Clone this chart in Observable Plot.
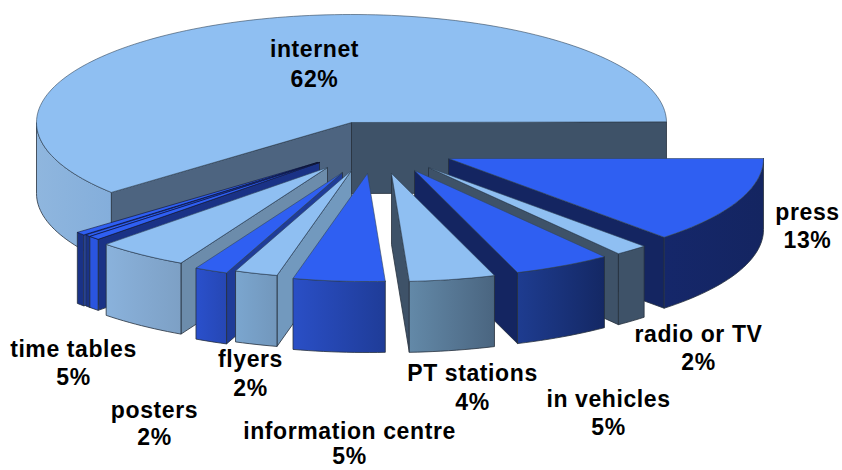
<!DOCTYPE html>
<html>
<head>
<meta charset="utf-8">
<style>
html,body{margin:0;padding:0;background:#fff}
svg{display:block}
</style>
<script src="https://cdn.jsdelivr.net/npm/d3@7"></script>
<script src="https://cdn.jsdelivr.net/npm/@observablehq/plot@0.6"></script>
</head>
<body>
<div id="chart"></div>
<script>
// Data, clockwise on screen from due east (shares)
const categories = ["press","radio or TV","in vehicles","PT stations","information centre","flyers","posters","time tables","small a","small b","small c","internet"];
const shares     = [13, 1.7, 5, 4.4, 4.7, 2.2, 1.7, 4.7, 0.6, 0.3, 0.5, 61.1];
const labelNames = ["internet","press","radio or TV","in vehicles","PT stations","information centre","flyers","posters","time tables"];
const labelPcts  = ["62%","13%","2%","5%","4%","5%","2%","2%","5%"];

// Layout (plot units equal to pixels)
const center = [352, 122], rx = 315, ry = 108, depth = 71;
const explodeX = [96, 76, 62, 39, 15, -1, -10, -25, -33, -33, -35, -1];
const explodeY = [36, 45, 48, 51, 51, 48, 50, 45, 40, 40, 40, 0];
const drawOrder = [11, 0, 1, 2, 3, 10, 9, 8, 7, 6, 5, 4];
const labelX = [314, 807, 698, 608, 472, 349, 250, 154, 73];
const labelY1 = [49, 212, 334, 399, 373, 431, 359, 410, 349];
const labelY2 = [79, 240, 362, 427, 402, 456, 388, 437, 377];

const LIGHT = "#8fbff2", BLUE = "#2f5ff2", SLATE = "#3e5268", NAVY = "#142561";
const tops  = [BLUE, LIGHT, BLUE, LIGHT, BLUE, LIGHT, BLUE, LIGHT, BLUE, BLUE, BLUE, LIGHT];
const walls = [NAVY, SLATE, NAVY, SLATE, SLATE, "#7299be", "#1f3c98", "#6c8cab", "#1a3286", "#1a3286", "#2a55e0", SLATE];
const outer = ["url(#gPress)", "url(#gSlate)", "url(#gNavy)", "url(#gPT)", "url(#gInfo)", "url(#gFly)", "url(#gPost)", "url(#gTime)", "url(#gBright)", "url(#gNavy2)", "url(#gNavy2)", "url(#gNet)"];
const gradients = {
  gPress: ["#15276a", "#142561"], gSlate: ["#3e5268", "#3e5268"], gNavy: ["#1e3c90", "#142864"],
  gPT: ["#6389a8", "#4a6580"], gInfo: ["#2a4fc6", "#1f3c98"], gFly: ["#7ba6cf", "#7297bc"],
  gPost: ["#2a50cc", "#2647b4"], gTime: ["#8ab2dc", "#7da0c5"], gNavy2: ["#1a3286", "#1a3286"],
  gBright: ["#2a55e0", "#2a55e0"], gNet: ["#8fb6de", "#84aedb"]
};

const rad = d => d * Math.PI / 180;
const point = (cx, cy, t, dz = 0) => ({x: cx + rx * Math.cos(rad(t)), y: cy + ry * Math.sin(rad(t)) + dz});
const poly = (pts, fill, stroke = "#26303c", strokeWidth = 0.8) =>
  Plot.line([...pts, pts[0]], {x: "x", y: "y", fill, stroke, strokeWidth, strokeLinejoin: "round"});
function arc(cx, cy, t0, t1, dz = 0) {
  const n = Math.max(2, Math.ceil(Math.abs(t1 - t0) / 1.5));
  return d3.range(n + 1).map(i => point(cx, cy, t0 + (t1 - t0) * i / n, dz));
}

let acc = 0;
const sectors = shares.map((s, i) => {
  const t0 = acc * 3.6; acc += s;
  return {i, t0, t1: acc * 3.6, cx: center[0] + explodeX[i], cy: center[1] + explodeY[i]};
});

const faces = [];
for (const k of drawOrder) {
  const {i, t0, t1, cx, cy} = sectors[k];
  const apex = {x: cx, y: cy}, apexLow = {x: cx, y: cy + depth};
  // Side walls that face the viewer
  if (Math.cos(rad(t0)) < 0) {
    faces.push(poly([apex, point(cx, cy, t0), point(cx, cy, t0, depth), apexLow], i === 11 ? "#4d6480" : walls[i]));
  }
  if (Math.cos(rad(t1)) > 0) {
    faces.push(poly([apex, point(cx, cy, t1), point(cx, cy, t1, depth), apexLow], walls[i]));
  }
  // Outer rim, front half only
  const a = Math.max(t0, 0), b = Math.min(t1, 180);
  if (b > a) faces.push(poly([...arc(cx, cy, a, b), ...arc(cx, cy, b, a, depth)], outer[i]));
  // Top face
  const tiny = i >= 8 && i <= 10;
  faces.push(poly([apex, ...arc(cx, cy, t0, t1)], tops[i], tiny ? "#0a0f30" : "#33465a", 0.6));
}

const defs = () => {
  const d = d3.create("svg:defs");
  for (const [id, [c0, c1]] of Object.entries(gradients)) {
    const g = d.append("linearGradient").attr("id", id).attr("x1", 0).attr("x2", 1).attr("y1", 0).attr("y2", 0);
    g.append("stop").attr("offset", 0).attr("stop-color", c0);
    g.append("stop").attr("offset", 1).attr("stop-color", c1);
  }
  return d.node();
};

const textOpts = {fontFamily: "Liberation Sans", fontWeight: "bold", fontSize: 23, fill: "#000", textAnchor: "middle"};
const chart = Plot.plot({
  width: 842, height: 470, margin: 0,
  style: {background: "#fff", letterSpacing: "0.6px"},
  x: {domain: [0, 842], axis: null},
  y: {domain: [470, 0], axis: null},
  marks: [
    defs,
    ...faces,
    Plot.text(labelNames, {x: (d, i) => labelX[i], y: (d, i) => labelY1[i], text: d => d, ...textOpts}),
    Plot.text(labelPcts,  {x: (d, i) => labelX[i], y: (d, i) => labelY2[i], text: d => d, ...textOpts})
  ]
});
document.getElementById("chart").append(chart);
</script>
</body>
</html>
